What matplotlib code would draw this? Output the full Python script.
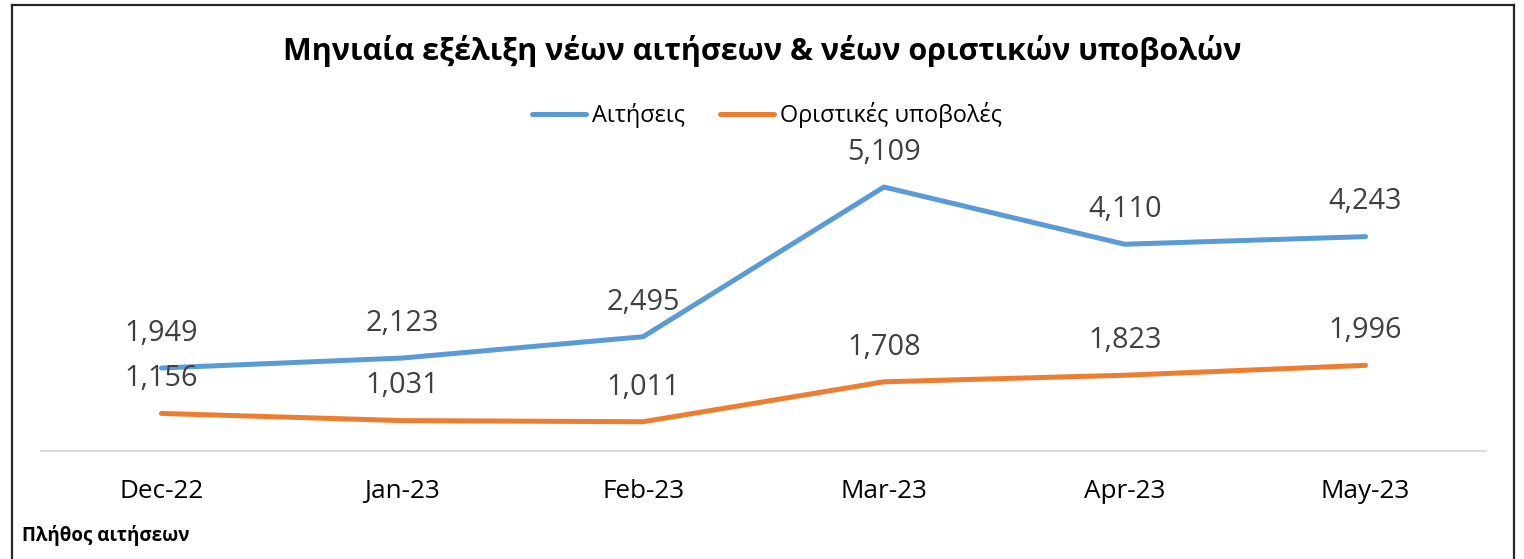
import matplotlib
matplotlib.use("Agg")
import matplotlib.pyplot as plt
from matplotlib.lines import Line2D

months = ["Dec-22", "Jan-23", "Feb-23", "Mar-23", "Apr-23", "May-23"]
aitiseis = [1949, 2123, 2495, 5109, 4110, 4243]
oristikes = [1156, 1031, 1011, 1708, 1823, 1996]
series_names = ["Αιτήσεις", "Οριστικές υποβολές"]
title = "Μηνιαία εξέλιξη νέων αιτήσεων & νέων οριστικών υποβολών"
footer = "Πλήθος αιτήσεων"

plt.rcParams['font.family'] = ['Open Sans', 'DejaVu Sans']

W, H = 1524, 559
fig = plt.figure(figsize=(W / 100, H / 100), dpi=100)

def fx(px):
    return px / W

def fy(py):
    return 1 - py / H

ax = fig.add_axes([fx(41), fy(451), fx(1486) - fx(41), fy(136) - fy(451)])

blue = "#5B9BD5"
orange = "#ED7D31"
x = list(range(len(months)))
ax.plot(x, aitiseis, color=blue, lw=3.6, solid_capstyle="round", solid_joinstyle="round", label=series_names[0])
ax.plot(x, oristikes, color=orange, lw=3.6, solid_capstyle="round", solid_joinstyle="round", label=series_names[1])

for xi, v in zip(x, aitiseis):
    ax.annotate(f"{v:,}", (xi, v), xytext=(0, 25), textcoords="offset points",
                ha="center", va="center", fontsize=20.8, color="#404040")
for xi, v in zip(x, oristikes):
    ax.annotate(f"{v:,}", (xi, v), xytext=(0, 25), textcoords="offset points",
                ha="center", va="center", fontsize=20.8, color="#404040")

ax.set_xlim(-0.5, len(months) - 0.5)
ax.set_ylim(500, 6000)
ax.set_xticks(x)
ax.set_xticklabels(months, fontsize=18.8, color="black")
ax.tick_params(axis="x", length=0, pad=20)
ax.set_yticks([])
for s in ["top", "right", "left"]:
    ax.spines[s].set_visible(False)
ax.spines["bottom"].set_color("#D9D9D9")
ax.spines["bottom"].set_linewidth(1.3)
ax.patch.set_alpha(0)

fig.text(0.5, fy(51), title, ha="center", va="center", fontsize=22, fontweight="bold")
fig.text(fx(22), fy(536), footer, ha="left", va="center", fontsize=13.5, fontweight="bold")

fs = 16.9
pxf = fs * 100 / 72
leg = fig.legend(loc="center", bbox_to_anchor=(fx(767), fy(115)), ncol=2, frameon=False,
                 fontsize=fs, handlelength=54 / pxf, handletextpad=6 / pxf,
                 columnspacing=35 / pxf, borderpad=0)

# outer border
bc = "#262626"
fig.add_artist(Line2D([fx(11.5), fx(11.5)], [0, fy(4.5)], transform=fig.transFigure, color=bc, lw=1.6))
fig.add_artist(Line2D([fx(11.5), fx(1514)], [fy(4.5), fy(4.5)], transform=fig.transFigure, color=bc, lw=1.6))
fig.add_artist(Line2D([fx(1514), fx(1514)], [fy(4.5), 0], transform=fig.transFigure, color=bc, lw=1.6))

fig.savefig("out.png", dpi=100)
